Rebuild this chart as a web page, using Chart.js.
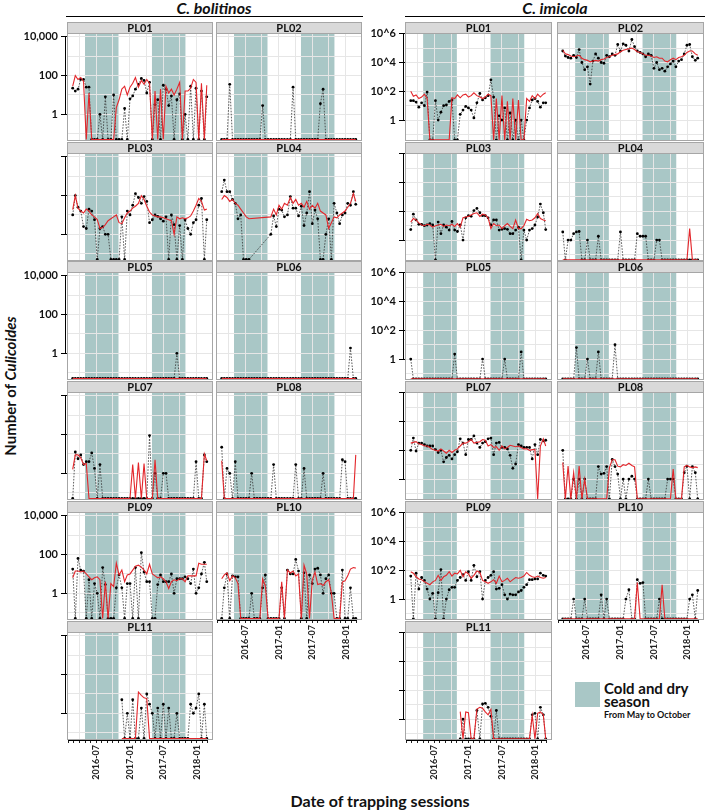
<!DOCTYPE html>
<html>
<head>
<meta charset="utf-8">
<script src="https://cdn.jsdelivr.net/npm/chart.js@4.4.1/dist/chart.umd.min.js"></script>
<style>
  body { margin: 0; background: #fff; font-family: Lato, "Open Sans", sans-serif; }
  #fig { position: relative; width: 708px; height: 811px; overflow: hidden; }
  .panel { position: absolute; }
  .txt { position: absolute; color: #111; font-weight: bold; white-space: nowrap; }
  .rule { position: absolute; height: 0; border-top: 1.3px solid #000; }
</style>
</head>
<body>
<div id="fig">
  <div class="txt" style="left:114px;width:200px;top:-2px;text-align:center;font-size:16px;font-style:italic;">C. bolitinos</div>
  <div class="rule" style="left:66px;width:297px;top:16px;"></div>
  <div class="txt" style="left:455px;width:200px;top:-2px;text-align:center;font-size:16px;font-style:italic;">C. imicola</div>
  <div class="rule" style="left:405px;width:300px;top:16px;"></div>
  <div class="txt" style="left:-90px;top:377px;width:200px;text-align:center;font-size:15px;transform:rotate(-90deg);">Number of <i>Culicoides</i></div>
  <div class="txt" style="left:230px;top:791px;width:300px;text-align:center;font-size:16px;">Date of trapping sessions</div>
  <div style="position:absolute;left:575px;top:682px;width:25px;height:25px;background:#a9c7c6;"></div>
  <div class="txt" style="left:604px;top:682px;font-size:15px;line-height:13px;">Cold and dry<br>season</div>
  <div class="txt" style="left:604px;top:709px;font-size:9px;">From May to October</div>
</div>
<script>
// log10 of the number of midges caught; Z = nothing caught, null = no trapping
const Z = -Infinity;

const sessionDates = [
  '2016-02-24', '2016-03-09', '2016-03-24', '2016-04-08', '2016-04-23', '2016-05-08', '2016-05-23',
  '2016-06-07', '2016-06-22', '2016-07-07', '2016-07-22', '2016-08-06', '2016-08-21', '2016-09-05',
  '2016-09-20', '2016-10-05', '2016-10-20', '2016-11-04', '2016-11-19', '2016-12-04', '2016-12-19',
  '2017-01-03', '2017-01-18', '2017-02-02', '2017-02-17', '2017-03-04', '2017-03-19', '2017-04-03',
  '2017-04-18', '2017-05-03', '2017-05-18', '2017-06-02', '2017-06-17', '2017-07-02', '2017-07-17',
  '2017-08-01', '2017-08-16', '2017-08-31', '2017-09-15', '2017-09-30', '2017-10-15', '2017-10-30',
  '2017-11-14', '2017-11-29', '2017-12-14', '2017-12-29', '2018-01-13', '2018-01-28', '2018-02-12',
  '2018-02-24'
];
const seasonStarts = ['2016-05-01', '2017-05-01'];
const seasonEnds = ['2016-11-01', '2017-11-01'];
const dateTickLabels = ['2016-07', '2017-01', '2017-07', '2018-01'];
const bolTickValues = [0, 2, 4];
const bolTickLabels = ['1', '100', '10,000'];
const imiTickValues = [0, 2, 4, 6];
const imiTickLabels = ['1', '10^2', '10^4', '10^6'];

// C. bolitinos
const bolPL01Obs = [1.35,1.2,1.3,1.8,1.8,1.4,1.4,Z,Z,Z, 0,Z,0.9,Z,Z,1.0,Z,Z,Z,0.3, Z,0.8,0.95,1.3,1.55,1.85,1.75,1.1,1.65,Z, 0.5,0.75,Z,1.5,1.3,0.45,0.95,Z,0.75,1.05, Z,0,Z,1.45,Z,1.35,Z,1.2,Z,0.9];
const bolPL01Pred = [1.45,2.0,1.8,1.9,1.7,Z,1.1,Z,Z,Z, Z,Z,Z,Z,Z,Z,0.35,0.75,1.3,1.45, 1.0,1.4,1.6,1.9,1.4,1.75,1.55,1.8,1.6,Z, 1.2,Z,1.3,Z,1.45,1.1,1.3,1.0,1.3,1.65, Z,1.2,1.2,1.35,1.8,1.65,Z,1.6,Z,1.5];
const bolPL02Obs = [Z,Z,Z,1.55,Z,Z,Z,Z,Z,Z, Z,Z,Z,Z,Z,0.45,Z,Z,Z,Z, Z,Z,Z,Z,Z,Z,1.4,Z,Z,Z, Z,Z,Z,Z,Z,Z,0.55,1.3,Z,Z, Z,Z,Z,Z,Z,Z,Z,Z,Z,Z];
const bolPL02Pred = [Z,Z,Z,Z,Z,Z,Z,Z,Z,Z, Z,Z,Z,Z,Z,Z,Z,Z,Z,Z, Z,Z,Z,Z,Z,Z,Z,Z,Z,Z, Z,Z,Z,Z,Z,Z,Z,Z,Z,Z, Z,Z,Z,Z,Z,Z,Z,Z,Z,Z];
const bolPL03Obs = [1.0,2.0,1.4,1.2,0.4,0.3,1.3,1.2,0.75,Z, 0.3,0.4,0,0,Z,Z,Z,Z,0.9,Z, 1.2,1.0,1.5,2.1,1.9,1.6,1.95,1.7,0.6,0.75, 1.0,0.93,0.8,0.68,0.9,Z,1.0,0.5,Z,0.45, Z,0.75,0.3,0,0.6,0.75,1.5,1.85,Z,0.75];
const bolPL03Pred = [1.27,2.0,1.35,1.2,1.1,1.3,1.2,1.0,0.9,0.76, 0.3,0.35,0.5,0.7,0.8,0.9,1.0,0.6,0.55,0.85, 1.1,1.2,1.35,1.45,1.6,2.0,1.8,1.45,1.15,1.0, 0.95,0.9,0.9,0.85,0.8,0.75,0.7,0.0,0.9,0.8, 0.85,0.8,0.85,0.95,1.2,1.5,1.85,1.7,1.25,1.3];
const bolPL04Obs = [2.2,2.8,2.2,2.2,1.8,1.6,0.8,1.0,Z,Z, Z,null,null,null,null,null,null,null,0,0.95, 0.4,1.3,1.25,0.9,1.0,1.95,1.35,1.35,0.95,1.45, 0.45,1.1,2.2,0.55,1.25,0.8,Z,Z,0,0.8, Z,1.6,1.1,0.55,1.0,1.1,1.6,1.5,2.2,1.55];
const bolPL04Pred = [1.8,2.0,1.9,1.7,1.8,1.6,1.5,1.3,1.1,0.9, 0.8,null,null,null,null,null,null,null,0.9,1.3, 1.0,1.5,1.3,1.6,1.5,1.9,1.6,1.8,1.5,1.6, 1.4,1.7,1.3,1.5,1.35,1.6,1.2,1.1,1.0,0.3, 0.6,0.9,0.85,1.0,1.1,1.2,1.4,1.6,2.1,1.7];
const bolPL05Obs = [Z,Z,Z,Z,Z,Z,Z,Z,Z,Z, Z,Z,Z,Z,Z,Z,Z,Z,Z,Z, Z,Z,Z,Z,Z,Z,Z,Z,Z,Z, Z,Z,Z,Z,Z,Z,Z,Z,0,Z, Z,Z,Z,Z,Z,Z,Z,Z,Z,Z];
const bolPL05Pred = [Z,Z,Z,Z,Z,Z,Z,Z,Z,Z, Z,Z,Z,Z,Z,Z,Z,Z,Z,Z, Z,Z,Z,Z,Z,Z,Z,Z,Z,Z, Z,Z,Z,Z,Z,Z,Z,Z,Z,Z, Z,Z,Z,Z,Z,Z,Z,Z,Z,Z];
const bolPL06Obs = [Z,Z,Z,Z,Z,Z,Z,Z,Z,Z, Z,Z,Z,Z,Z,Z,Z,Z,Z,Z, Z,Z,Z,Z,Z,Z,Z,Z,Z,Z, Z,Z,Z,Z,Z,Z,Z,Z,Z,Z, Z,Z,Z,Z,Z,Z,Z,0.27,Z,Z];
const bolPL06Pred = [Z,Z,Z,Z,Z,Z,Z,Z,Z,Z, Z,Z,Z,Z,Z,Z,Z,Z,Z,Z, Z,Z,Z,Z,Z,Z,Z,Z,Z,Z, Z,Z,Z,Z,Z,Z,Z,Z,Z,Z, Z,Z,Z,Z,Z,Z,Z,Z,Z,Z];
const bolPL07Obs = [Z,1.1,0.75,0.95,0.45,0.6,0.6,1.05,0.25,Z, 0.45,Z,Z,Z,Z,Z,Z,Z,Z,Z, Z,Z,Z,Z,Z,Z,Z,Z,1.95,Z, 0,Z,Z,0,0,Z,Z,Z,Z,Z, Z,Z,Z,Z,Z,0.6,Z,Z,0.95,0.6];
const bolPL07Pred = [0.2,0.95,0.95,0.8,0.45,0.5,Z,Z,Z,Z, Z,Z,Z,Z,Z,Z,Z,Z,Z,Z, Z,Z,0.45,Z,0.55,Z,0.5,Z,Z,Z, 0.7,Z,Z,Z,Z,Z,Z,Z,Z,Z, Z,Z,Z,Z,Z,Z,Z,Z,1.0,0.65];
const bolPL08Obs = [1.35,Z,0.25,0,Z,0.6,Z,Z,Z,Z, Z,0,Z,Z,Z,Z,Z,Z,Z,0.45, Z,Z,Z,Z,Z,Z,Z,0.45,Z,Z, 0.25,Z,Z,Z,Z,Z,Z,0,Z,Z, Z,Z,Z,Z,0.7,0.6,Z,Z,Z,Z];
const bolPL08Pred = [0.65,Z,Z,Z,Z,Z,Z,Z,Z,Z, Z,Z,Z,Z,Z,Z,Z,Z,Z,Z, Z,Z,Z,Z,Z,Z,Z,Z,Z,Z, Z,Z,Z,Z,Z,Z,Z,Z,Z,Z, Z,Z,Z,Z,Z,Z,Z,Z,Z,0.95];
const bolPL09Obs = [1.25,Z,1.8,1.2,1.15,Z,0.7,Z,0.5,0, Z,1.33,0.45,Z,Z,Z,0.28,0.95,0.28,Z, 0.5,0.5,Z,1.33,Z,2.1,1.1,0.6,0.6,Z, Z,0.45,0.95,0.6,0.6,0.6,1.0,0,0.75,0.75, 0.75,0.85,0.75,0.5,1.25,0,0.28,1.0,1.6,0.6];
const bolPL09Pred = [0.8,1.15,1.15,1.1,1.15,1.0,0.85,0.7,0.8,0.85, 0.7,Z,0.6,Z,0.5,0.35,1.55,0.95,1.2,0.6, 0.95,1.0,1.2,1.4,1.45,1.35,1.2,1.0,1.5,1.0, 0.9,0.8,0.85,0.75,0.6,0.25,0.6,0.7,0.65,0.75, 0.75,0.6,0.9,0.9,0.9,0.9,1.55,1.5,1.5,1.5];
const bolPL10Obs = [Z,0.28,1.0,Z,0.9,0.85,0.85,Z,Z,Z, Z,0,Z,Z,Z,0.28,0.95,Z,Z,Z, Z,Z,0.28,Z,1.2,1.0,1.0,1.75,1.15,Z, 1.05,Z,0.95,0.5,1.25,1.3,0.95,0,0.75,0.95, 0,0,Z,Z,1.2,Z,Z,0.28,Z,Z];
const bolPL10Pred = [0.75,0.95,1.05,0.65,0.9,0.8,0.5,Z,Z,Z, Z,Z,Z,Z,Z,0.75,0.38,Z,Z,Z, Z,Z,0.6,Z,1.2,1.05,1.15,0.9,1.0,Z, 1.45,1.0,Z,0.7,1.1,0.45,0.5,0.4,0.6,0.7, 0.0,Z,Z,Z,0.58,0.65,0.9,1.25,1.33,1.3];
const bolPL11Obs = [null,null,null,null,null,null,null,null,null,null, null,null,null,null,null,null,null,null,0.7,Z, 0,Z,0.7,Z,Z,0.27,Z,1.0,0.47,0, Z,0.27,Z,0.47,Z,0.27,Z,Z,0,Z, Z,Z,Z,0.47,0,0.27,1.0,Z,0.47,Z];
const bolPL11Pred = [null,null,null,null,null,null,null,null,null,null, null,null,null,null,null,null,null,null,Z,Z, Z,Z,Z,Z,1.1,0.93,0.8,0.76,Z,Z, Z,Z,Z,Z,Z,Z,Z,Z,Z,Z, Z,Z,Z,Z,Z,Z,Z,Z,Z,Z];

// C. imicola
const imiPL01Obs = [1.35,1.35,1.25,0.9,1.2,1.0,1.95,Z,Z,1.35, 0,0.55,1.0,1.05,1.3,1.4,Z,Z,0.4,0.7, 0.95,0.85,0.7,0.15,1.2,1.85,1.4,1.55,1.7,2.8, 1.6,Z,0.3,0,0.85,Z,0.5,Z,0,Z, 0,Z,0,0.85,1.4,1.5,1.3,0.9,1.2,1.2];
const imiPL01Pred = [2.0,1.65,1.75,1.5,1.6,1.8,1.5,Z,Z,Z, Z,Z,Z,Z,Z,1.55,1.5,1.75,1.55,1.75, 1.8,1.6,1.7,1.9,1.7,1.6,1.5,1.6,1.8,1.7, Z,1.5,Z,1.7,Z,1.3,Z,1.5,Z,1.4, Z,Z,1.5,1.3,1.7,1.5,1.8,1.6,1.8,1.9];
const imiPL02Obs = [4.8,4.45,4.35,4.3,4.5,4.35,4.9,4.0,3.5,3.7, 2.5,4.1,4.6,4.3,4.0,3.95,4.5,4.4,4.6,4.5, 5.25,4.8,5.3,5.2,4.8,5.6,5.1,4.8,4.7,4.6, 4.4,4.6,4.5,3.6,4.0,3.5,3.6,3.4,3.7,3.9, 4.1,3.7,4.1,4.2,4.6,5.2,5.25,4.4,4.15,4.3];
const imiPL02Pred = [4.85,4.6,4.55,4.45,4.4,4.45,4.5,4.3,4.2,4.15, 4.05,4.1,4.15,4.1,4.2,4.25,4.35,4.4,4.5,4.55, 4.6,4.75,4.85,4.9,4.95,5.0,4.9,4.75,4.7,4.6, 4.5,4.5,4.45,4.35,4.4,4.3,4.3,4.1,4.05,4.2, 4.3,4.2,4.35,4.4,4.5,4.7,4.8,4.8,4.6,4.5];
const imiPL03Obs = [0.73,1.8,1.4,1.1,1.1,1.0,1.05,1.15,1.05,Z, 1.25,0.45,1.05,0.9,0.7,1.3,0.7,0.6,1.05,0, 1.55,1.7,1.65,2.05,2.2,1.9,1.7,1.7,1.55,1.05, 1.4,1.4,0.7,0.75,0.8,0.75,0.45,0.45,0.7,0.9, Z,0.7,0,0.7,0.8,1.05,1.6,2.5,1.9,0.73];
const imiPL03Pred = [1.25,1.5,1.4,1.2,1.05,1.0,1.1,1.05,0.9,1.0, 1.05,1.1,0.95,1.05,1.0,1.1,0.95,1.15,0.9,1.55, 1.6,1.65,1.75,1.85,1.9,1.65,1.8,1.75,1.55,0.8, 1.15,1.0,1.05,0.8,1.0,1.15,0.95,0.8,1.4,0.8, 0.8,1.0,1.45,1.35,1.4,1.55,1.85,1.5,1.4,1.35];
const imiPL04Obs = [0.57,Z,0,0,0.45,0.57,0.6,Z,Z,0, Z,Z,Z,0.27,Z,Z,Z,Z,Z,Z, Z,0.57,Z,Z,Z,Z,Z,0.45,0.27,0.27, 0.27,Z,Z,Z,0,0,Z,Z,Z,Z, Z,Z,Z,Z,Z,Z,Z,Z,Z,Z];
const imiPL04Pred = [Z,Z,Z,Z,Z,Z,Z,Z,Z,Z, Z,Z,Z,Z,Z,Z,Z,Z,Z,Z, Z,Z,Z,Z,Z,Z,Z,Z,Z,Z, Z,Z,Z,Z,Z,Z,Z,Z,Z,Z, Z,Z,Z,Z,Z,Z,0.8,Z,Z,Z];
const imiPL05Obs = [0,Z,Z,Z,Z,Z,Z,Z,Z,Z, Z,Z,Z,Z,Z,Z,0.35,Z,Z,Z, Z,Z,Z,Z,Z,Z,0,Z,Z,Z, Z,Z,Z,Z,0,Z,Z,Z,Z,Z, 0.5,Z,Z,Z,Z,Z,Z,Z,Z,Z];
const imiPL05Pred = [Z,Z,Z,Z,Z,Z,Z,Z,Z,Z, Z,Z,Z,Z,Z,Z,Z,Z,Z,Z, Z,Z,Z,Z,Z,Z,Z,Z,Z,Z, Z,Z,Z,Z,Z,Z,Z,Z,Z,Z, Z,Z,Z,Z,Z,Z,Z,Z,Z,Z];
const imiPL06Obs = [Z,Z,Z,Z,Z,0.8,Z,Z,Z,0, Z,Z,Z,0.5,Z,Z,Z,Z,Z,1.0, Z,Z,Z,Z,Z,Z,Z,Z,Z,Z, Z,Z,Z,Z,Z,Z,Z,Z,Z,Z, Z,Z,Z,Z,Z,Z,Z,Z,Z,Z];
const imiPL06Pred = [Z,Z,Z,Z,Z,Z,Z,Z,Z,Z, Z,Z,Z,Z,Z,Z,Z,Z,Z,Z, Z,Z,Z,Z,Z,Z,Z,Z,Z,Z, Z,Z,Z,Z,Z,Z,Z,Z,Z,Z, Z,Z,Z,Z,Z,Z,Z,Z,Z,Z];
const imiPL07Obs = [2.0,2.85,1.95,2.5,2.5,2.4,2.3,2.3,2.3,2.05, 1.85,2.0,1.2,1.5,1.65,1.4,1.7,1.9,2.8,2.5, 1.7,2.75,2.75,3.0,2.5,2.2,2.5,2.6,2.8,2.85, 1.7,2.5,2.55,2.2,2.2,2.1,1.65,0.75,1.05,2.4, 2.3,2.2,2.2,2.2,1.4,2.4,1.7,2.75,2.65,2.7];
const imiPL07Pred = [2.5,2.55,2.6,2.45,2.4,2.3,2.3,2.2,2.05,2.0, 1.95,2.1,1.95,1.8,2.0,1.85,2.0,2.1,2.3,2.5, 2.5,2.6,2.75,2.5,2.55,2.6,2.75,2.7,2.3,2.4, 2.2,2.25,2.0,2.3,2.1,2.2,2.35,2.3,2.25,2.3, 2.2,2.1,2.1,2.0,2.05,2.05,Z,2.3,2.8,2.3];
const imiPL08Obs = [2.0,Z,Z,Z,0,Z,0,Z,0,Z, Z,Z,Z,0.87,0.35,0.4,0.87,Z,1.37,0.87, 0.35,Z,0,Z,0,0.2,0,Z,Z,Z, Z,0,Z,Z,Z,Z,Z,Z,0,0, 0,Z,Z,Z,0.45,0.9,Z,0.87,0.45,Z];
const imiPL08Pred = [1.15,Z,0.9,Z,0.45,Z,0.9,Z,0,Z, Z,Z,Z,Z,Z,Z,Z,0.8,1.35,1.35, 0.9,0.85,1.0,0.95,1.1,0.95,0.85,Z,Z,Z, Z,Z,Z,Z,Z,Z,Z,Z,Z,Z, 0.7,Z,Z,Z,0.85,0.95,0.85,0.8,0.85,0.8];
const imiPL09Obs = [1.6,Z,1.8,0.7,1.5,1.3,0.7,0,0.4,Z, 0.45,2.05,Z,0,0.65,0.82,0.82,1.3,1.5,1.7, 1.3,1.9,1.3,2.35,1.55,1.9,0,1.3,1.5,1.65, 1.9,0.7,0.75,1.0,0.3,0,0.35,0.3,0.3,0.5, 0.6,0.82,1.0,1.35,1.35,1.4,1.4,1.8,1.65,1.6];
const imiPL09Pred = [1.9,1.8,1.55,1.4,1.35,1.2,1.1,1.0,1.2,1.3, 1.65,1.3,1.55,1.65,1.9,1.6,1.8,1.75,2.0,1.55, 1.9,1.75,1.45,1.65,1.95,1.85,1.3,1.2,1.1,1.2, 1.35,1.1,1.6,1.2,1.3,1.45,1.2,1.35,1.5,1.45, 1.5,1.6,1.85,1.65,1.55,1.5,1.6,1.5,1.45,1.5];
const imiPL10Obs = [Z,Z,Z,Z,0,Z,Z,Z,0,Z, Z,Z,Z,Z,0.3,Z,0,Z,Z,Z, Z,Z,Z,0,0.65,Z,Z,1.35,1.1,1.15, Z,Z,Z,Z,Z,0,Z,Z,Z,Z, Z,Z,Z,Z,Z,Z,0,0.3,Z,0.6];
const imiPL10Pred = [Z,Z,Z,Z,Z,Z,Z,Z,Z,Z, Z,Z,Z,Z,Z,Z,Z,Z,Z,Z, Z,Z,Z,Z,Z,Z,Z,1.15,Z,Z, Z,Z,Z,Z,Z,Z,1.0,Z,Z,Z, Z,Z,Z,Z,Z,Z,Z,Z,Z,Z];
const imiPL11Obs = [null,null,null,null,null,null,null,null,null,null, null,null,null,null,null,null,null,null,Z,0, Z,Z,Z,Z,0.6,Z,1.05,1.1,0.82,0.2, Z,0.6,Z,Z,Z,Z,Z,Z,Z,Z, Z,Z,Z,Z,0.3,0.4,Z,0.82,0.3,Z];
const imiPL11Pred = [null,null,null,null,null,null,null,null,null,null, null,null,null,null,null,null,null,null,0.52,Z, 0.5,0.45,Z,Z,0.7,0.82,0.75,0.5,0.3,0.68, Z,Z,Z,Z,Z,Z,Z,Z,Z,Z, Z,Z,Z,Z,0.25,Z,0.4,0.5,0.3,Z];

const bolObs = [bolPL01Obs, bolPL02Obs, bolPL03Obs, bolPL04Obs, bolPL05Obs, bolPL06Obs, bolPL07Obs, bolPL08Obs, bolPL09Obs, bolPL10Obs, bolPL11Obs];
const bolPred = [bolPL01Pred, bolPL02Pred, bolPL03Pred, bolPL04Pred, bolPL05Pred, bolPL06Pred, bolPL07Pred, bolPL08Pred, bolPL09Pred, bolPL10Pred, bolPL11Pred];
const imiObs = [imiPL01Obs, imiPL02Obs, imiPL03Obs, imiPL04Obs, imiPL05Obs, imiPL06Obs, imiPL07Obs, imiPL08Obs, imiPL09Obs, imiPL10Obs, imiPL11Obs];
const imiPred = [imiPL01Pred, imiPL02Pred, imiPL03Pred, imiPL04Pred, imiPL05Pred, imiPL06Pred, imiPL07Pred, imiPL08Pred, imiPL09Pred, imiPL10Pred, imiPL11Pred];

// --- layout ---
const TEAL = '#a9c7c6';
const RED = '#e3262b';
const FONT = 'Lato';
const STRIP_H = 11;
const PLOT_H = 108;
const ROW_TOPS = [33, 153, 272, 392, 512, 632];
const X_MIN = 0.77, X_MAX = 26.94;
const species = {
    bol: { lefts: [67, 216], width: 146, yMin: -1.38, yMax: 4.2, tv: bolTickValues, tl: bolTickLabels, obs: bolObs, pred: bolPred },
    imi: { lefts: [405, 557], width: 147, yMin: -1.45, yMax: 6.05, tv: imiTickValues, tl: imiTickLabels, obs: imiObs, pred: imiPred }
};

function toMonths(s) {
    const [y, m, d] = s.split('-').map(Number);
    const dim = new Date(y, m, 0).getDate();
    return (y - 2016) * 12 + (m - 1) + ((d || 1) - 1) / dim;
}
const sessionX = sessionDates.map(toMonths);
const labelMonths = dateTickLabels.map(toMonths);
const monthTicks = [];
for (let m = toMonths('2016-02-01'); m <= toMonths('2018-03-01') + 0.01; m++) monthTicks.push(m);
const gridMonths = [3, 6, 9, 12, 15, 18, 21, 24];

const panelDecor = {
    id: 'panelDecor',
    beforeDraw(chart, args, o) {
        const { ctx, chartArea: a, scales: { x } } = chart;
        ctx.save();
        ctx.fillStyle = '#fff';
        ctx.fillRect(a.left, a.top, a.width, a.height);
        ctx.fillStyle = TEAL;
        seasonStarts.forEach((s, k) => {
            const x1 = x.getPixelForValue(toMonths(s));
            const x2 = x.getPixelForValue(toMonths(seasonEnds[k]));
            ctx.fillRect(x1, a.top, x2 - x1, a.height);
        });
        ctx.restore();
    },
    afterDraw(chart, args, o) {
        const { ctx, chartArea: a, scales: { x, y } } = chart;
        ctx.save();
        ctx.lineWidth = 1;
        ctx.strokeStyle = '#a6a6a6';
        ctx.strokeRect(a.left + 0.5, a.top + 0.5, a.width - 1, a.height - 1);
        // facet strip
        ctx.fillStyle = '#d9d9d9';
        ctx.fillRect(a.left, a.top - STRIP_H, a.width, STRIP_H);
        ctx.strokeRect(a.left + 0.5, a.top - STRIP_H + 0.5, a.width - 1, STRIP_H);
        ctx.fillStyle = '#111';
        ctx.font = 'bold 11px ' + FONT;
        ctx.textAlign = 'center';
        ctx.textBaseline = 'middle';
        ctx.fillText(o.name, (a.left + a.right) / 2, a.top - STRIP_H / 2 + 0.5);
        // bracket axis lines
        ctx.strokeStyle = '#000';
        ctx.beginPath();
        if (o.yAxis) {
            ctx.moveTo(a.left - 1.5, y.getPixelForValue(o.yTop));
            ctx.lineTo(a.left - 1.5, y.getPixelForValue(0));
        }
        if (o.xAxis) {
            ctx.moveTo(x.getPixelForValue(monthTicks[0]), a.bottom + 0.5);
            ctx.lineTo(x.getPixelForValue(monthTicks[monthTicks.length - 1]), a.bottom + 0.5);
        }
        ctx.stroke();
        ctx.restore();
    }
};

function toPoints(vals, floor) {
    return vals.map((v, i) => ({ x: sessionX[i], y: v === null ? null : (v === Z ? floor : v) }));
}

const fig = document.getElementById('fig');

['bol', 'imi'].forEach(sp => {
    const S = species[sp];
    S.obs.forEach((obs, k) => {
        const row = Math.floor(k / 2), col = k % 2;
        const name = 'PL' + String(k + 1).padStart(2, '0');
        const axisW = col === 0 ? 62 : 0;
        const hasX = (col === 0 && row === 5) || (col === 1 && row === 4);
        const axisH = hasX ? 48 : 0;
        const showYLabels = col === 0 && row % 2 === 0;
        const floor = S.yMin + 0.08;

        const div = document.createElement('div');
        div.className = 'panel';
        div.style.left = (S.lefts[col] - axisW) + 'px';
        div.style.top = (ROW_TOPS[row] - STRIP_H) + 'px';
        div.style.width = (axisW + S.width) + 'px';
        div.style.height = (STRIP_H + PLOT_H + axisH) + 'px';
        const canvas = document.createElement('canvas');
        div.appendChild(canvas);
        fig.appendChild(div);

        const yGrid = [];
        for (let v = -1; v <= S.tv[S.tv.length - 1]; v++) yGrid.push(v);

        new Chart(canvas, {
            type: 'line',
            data: {
                datasets: [
                    {
                        data: toPoints(S.pred[k], floor),
                        borderColor: RED,
                        borderWidth: 1.1,
                        pointRadius: 0
                    },
                    {
                        data: toPoints(obs, floor),
                        borderColor: '#333',
                        borderWidth: 0.8,
                        borderDash: [1.6, 1.4],
                        pointRadius: 1.4,
                        pointBorderWidth: 0,
                        pointBackgroundColor: '#000'
                    }
                ]
            },
            options: {
                responsive: true,
                maintainAspectRatio: false,
                animation: false,
                spanGaps: true,
                events: [],
                layout: { padding: { top: STRIP_H, left: 0, right: 0, bottom: 0 }, autoPadding: false },
                elements: { line: { tension: 0 } },
                plugins: {
                    legend: { display: false },
                    tooltip: { enabled: false },
                    panelDecor: { name: name, yAxis: col === 0, yTop: S.tv[S.tv.length - 1], xAxis: hasX }
                },
                scales: {
                    x: {
                        type: 'linear',
                        min: X_MIN,
                        max: X_MAX,
                        afterBuildTicks: s => { s.ticks = monthTicks.map(v => ({ value: v })); },
                        afterFit: s => { s.height = axisH; s.paddingLeft = 0; s.paddingRight = 0; },
                        border: { display: false },
                        grid: {
                            color: c => gridMonths.some(g => Math.abs(g - c.tick.value) < 0.01) ? '#e6e6e6' : 'rgba(0,0,0,0)',
                            drawTicks: hasX,
                            tickLength: 3,
                            tickColor: '#222'
                        },
                        ticks: {
                            display: hasX,
                            autoSkip: false,
                            minRotation: 90,
                            maxRotation: 90,
                            padding: 2,
                            color: '#222',
                            font: { family: FONT, size: 9, weight: 'bold' },
                            callback: v => {
                                const j = labelMonths.findIndex(m => Math.abs(m - v) < 0.01);
                                return j >= 0 ? dateTickLabels[j] : '';
                            }
                        }
                    },
                    y: {
                        type: 'linear',
                        min: S.yMin,
                        max: S.yMax,
                        afterBuildTicks: s => { s.ticks = yGrid.map(v => ({ value: v })); },
                        afterFit: s => { s.width = axisW; s.paddingTop = 0; s.paddingBottom = 0; },
                        border: { display: false },
                        grid: {
                            color: '#e6e6e6',
                            drawTicks: col === 0,
                            tickLength: 6,
                            tickColor: c => S.tv.includes(c.tick.value) ? '#000' : 'rgba(0,0,0,0)'
                        },
                        ticks: {
                            display: col === 0,
                            autoSkip: false,
                            padding: 3,
                            color: '#111',
                            font: { family: FONT, size: 11, weight: 'bold' },
                            callback: v => {
                                const j = S.tv.indexOf(v);
                                return showYLabels && j >= 0 ? S.tl[j] : '';
                            }
                        }
                    }
                }
            },
            plugins: [panelDecor]
        });
    });
});
</script>
</body>
</html>
